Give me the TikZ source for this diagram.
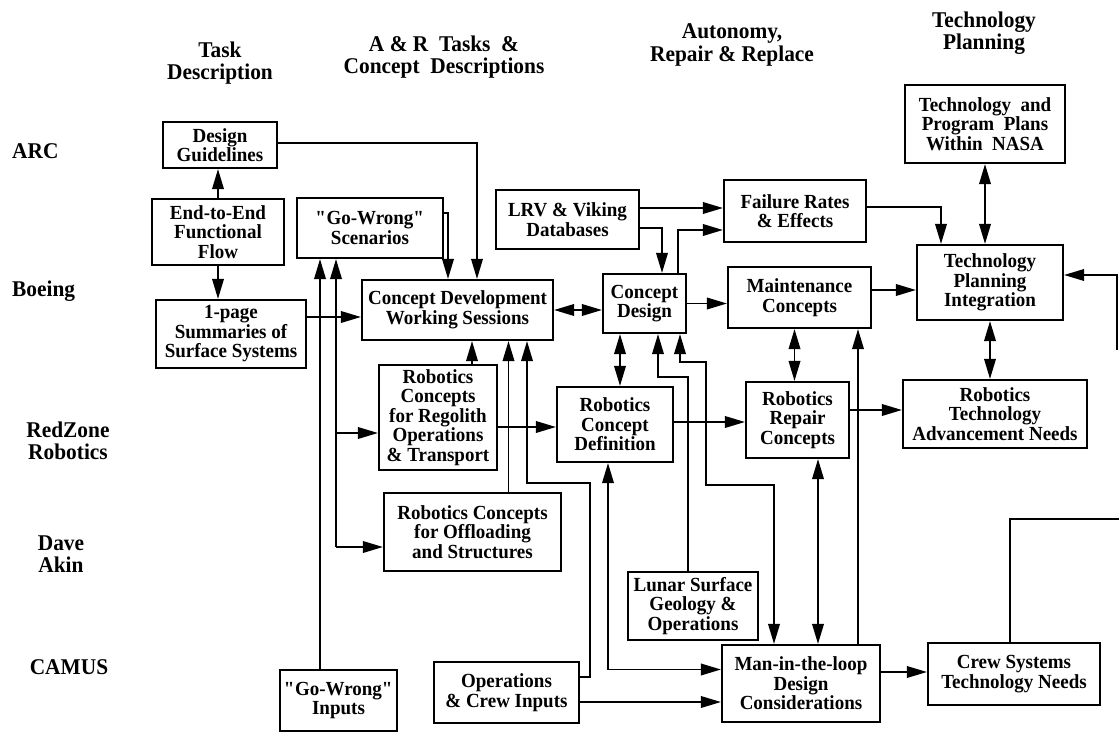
\documentclass[tikz,border=0pt]{standalone}
\usepackage{fontspec}
\setmainfont{Liberation Serif}[FakeStretch=0.95]
\usetikzlibrary{arrows.meta,calc}
\newcommand{\bxf}{\fontsize{20}{19.5}\selectfont\bfseries}
\newcommand{\hdf}{\fontsize{22.5}{22.5}\selectfont\bfseries}
\newcommand{\qq}{\textquotedbl}
\begin{document}
\begin{tikzpicture}[x=1pt,y=-1pt,
  box/.style={draw, line width=2.1pt, align=center, inner sep=1pt, font=\bxf},
  hdr/.style={align=center, inner sep=0pt, font=\hdf},
  arr/.style={line width=1.9pt, -{Triangle[length=20pt,width=11.5pt]}},
  dbl/.style={line width=1.9pt, {Triangle[length=20pt,width=11.5pt]}-{Triangle[length=20pt,width=11.5pt]}},
  ln/.style={line width=1.9pt}]
\useasboundingbox (0,0) rectangle (1119,733);

% headers
\node[hdr] (h1) at (220,63) {Task\\Description};
\node[hdr] (h2) at (444,57) {A \& R\ \ Tasks\ \ \&\\Concept\ \ Descriptions};
\node[hdr] (h3) at (732,45) {Autonomy,\\Repair \& Replace};
\node[hdr] (h4) at (984,33) {Technology\\Planning};

% row labels
\node[hdr, anchor=west] (rarc) at (12,151) {ARC};
\node[hdr, anchor=west] (rboe) at (12,291) {Boeing};
\node[hdr] (rred) at (68,441) {RedZone\\Robotics};
\node[hdr] (rdav) at (61,554) {Dave\\Akin};
\node[hdr] (rcam) at (69,667) {CAMUS};

% boxes
\node[box, minimum width=114, minimum height=46] (dg) at (220,145) {Design\\Guidelines};
\node[box, minimum width=132, minimum height=66] (ee) at (218,232) {End-to-End\\Functional\\Flow};
\node[box, minimum width=150, minimum height=68] (ops) at (231,334) {1-page\\Summaries of\\Surface Systems};
\node[box, minimum width=146, minimum height=60] (gws) at (370,228) {\qq Go-Wrong\qq\\Scenarios};
\node[box, minimum width=191, minimum height=60] (cdws) at (457.5,310) {Concept Development\\Working Sessions};
\node[box, minimum width=143, minimum height=59] (lrv) at (567.5,219.5) {LRV \& Viking\\Databases};
\node[box, minimum width=83, minimum height=59] (cd) at (644.5,303.5) {Concept\\Design};
\node[box, minimum width=142, minimum height=62] (fre) at (795,211) {Failure Rates\\\& Effects};
\node[box, minimum width=160, minimum height=78] (tpp) at (985,124) {Technology\ \ and\\Program\ \ Plans\\Within\ \ NASA};
\node[box, minimum width=146, minimum height=75] (tpi) at (990,282.5) {Technology\\Planning\\Integration};
\node[box, minimum width=143, minimum height=61] (mc) at (799.5,297.5) {Maintenance\\Concepts};
\node[box, minimum width=118, minimum height=105] (reg) at (438,417.5) {Robotics\\Concepts\\for Regolith\\Operations\\\& Transport};
\node[box, minimum width=116, minimum height=75] (rcd) at (615,424.5) {Robotics\\Concept\\Definition};
\node[box, minimum width=103, minimum height=76] (rrc) at (797.5,420) {Robotics\\Repair\\Concepts};
\node[box, minimum width=184, minimum height=68] (rtan) at (995,414) {Robotics\\Technology\\Advancement Needs};
\node[box, minimum width=177, minimum height=78] (off) at (472.5,532) {Robotics Concepts\\for Offloading\\and Structures};
\node[box, minimum width=130, minimum height=68] (lsg) at (693,606) {Lunar Surface\\Geology \&\\Operations};
\node[box, minimum width=117, minimum height=61] (gwi) at (338.5,700.5) {\qq Go-Wrong\qq\\Inputs};
\node[box, minimum width=145, minimum height=61] (oci) at (506.5,692.5) {Operations\\\& Crew Inputs};
\node[box, minimum width=158, minimum height=77] (mitl) at (801,683.5) {Man-in-the-loop\\Design\\Considerations};
\node[box, minimum width=172, minimum height=62] (cstn) at (1014,674) {Crew Systems\\Technology Needs};

% connectors
\draw[arr] (ee.north) -- (ee.north |- dg.south);
\draw[arr] (ee.south) -- (ee.south |- ops.north);
\draw[arr] ($(dg.east)+(0,-2)$) -| ($(cdws.north)+(19.5,0)$);
\draw[arr] ($(gws.east)+(0,-15)$) -| ($(cdws.north)+(-9.5,0)$);
\coordinate (e1) at ($(ops.east)+(0,-17)$);
\draw[arr] (e1) -- (e1 -| cdws.west);
\coordinate (f1) at ($(gwi.north)+(-18.5,0)$);
\draw[arr] (f1) -- (f1 |- gws.south);
\coordinate (g1) at (336,547);
\coordinate (g2) at (336,433);
\draw[arr] (g1) -- (g1 |- gws.south);
\draw[arr] (g1) -- (g1 -| off.west);
\draw[arr] (g2) -- (g2 -| reg.west);
\coordinate (hh) at ($(reg.north)+(34,0)$);
\draw[arr] (hh) -- (hh |- cdws.south);
\coordinate (ii) at ($(off.north)+(36,0)$);
\draw[arr] (ii) -- (ii |- cdws.south);
\draw[arr] ($(oci.east)+(0,-15.5)$) -| (590,483) -| ($(cdws.south)+(69.5,0)$);
\draw[dbl] (cdws.east) -- (cdws.east -| cd.west);
\coordinate (l1) at ($(lrv.east)+(0,-11.5)$);
\draw[arr] (l1) -- (l1 -| fre.west);
\draw[arr] ($(lrv.east)+(0,8.5)$) -| ($(cd.north)+(17.5,0)$);
\draw[arr] ($(cd.north)+(33.5,0)$) |- ($(fre.west)+(0,19)$);
\draw[arr] ($(fre.east)+(0,-4)$) -| ($(tpi.north)+(-49,0)$);
\draw[dbl] (tpp.south) -- (tpp.south |- tpi.north);
\draw[arr] (cd.east) -- (cd.east -| mc.west);
\coordinate (r1) at ($(mc.east)+(0,-7.5)$);
\draw[arr] (r1) -- (r1 -| tpi.west);
\coordinate (s1) at (1117,350);
\draw[arr] (s1) |- ($(tpi.east)+(0,-7.5)$);
\draw[dbl] (tpi.south) -- (tpi.south |- rtan.north);
\coordinate (u1) at ($(mc.south)+(-5,0)$);
\draw[dbl] (u1) -- (u1 |- rrc.north);
\coordinate (v1) at ($(mitl.north)+(57,0)$);
\draw[arr] (v1) -- (v1 |- mc.south);
\coordinate (w1) at ($(reg.east)+(0,9.5)$);
\draw[arr] (w1) -- (w1 -| rcd.west);
\coordinate (x1) at ($(rcd.east)+(0,-2.5)$);
\draw[arr] (x1) -- (x1 -| rrc.west);
\coordinate (y1) at ($(rrc.east)+(0,-10)$);
\draw[arr] (y1) -- (y1 -| rtan.west);
\coordinate (z1) at ($(rrc.south)+(20.5,0)$);
\draw[dbl] (z1) -- (z1 |- mitl.north);
\coordinate (a1) at ($(cd.south)+(-24.5,0)$);
\draw[dbl] (a1) -- (a1 |- rcd.north);
\draw[arr] ($(lsg.north)+(-5,0)$) |- (658,377) -- ($(cd.south)+(13.5,0)$);
\draw[dbl] ($(cd.south)+(35.5,0)$) |- (706,362) |- (774,485) -- ($(mitl.north)+(-27,0)$);
\draw[dbl] ($(rcd.south)+(-7,0)$) |- ($(mitl.west)+(0,-14)$);
\coordinate (e2) at ($(oci.east)+(0,9.5)$);
\draw[arr] (e2) -- (e2 -| mitl.west);
\coordinate (f2) at ($(mitl.east)+(0,-11.5)$);
\draw[arr] (f2) -- (f2 -| cstn.west);
\coordinate (cr) at (1119,519);
\draw[ln] ($(cstn.north)+(-4,0)$) |- (cr);
\end{tikzpicture}
\end{document}
